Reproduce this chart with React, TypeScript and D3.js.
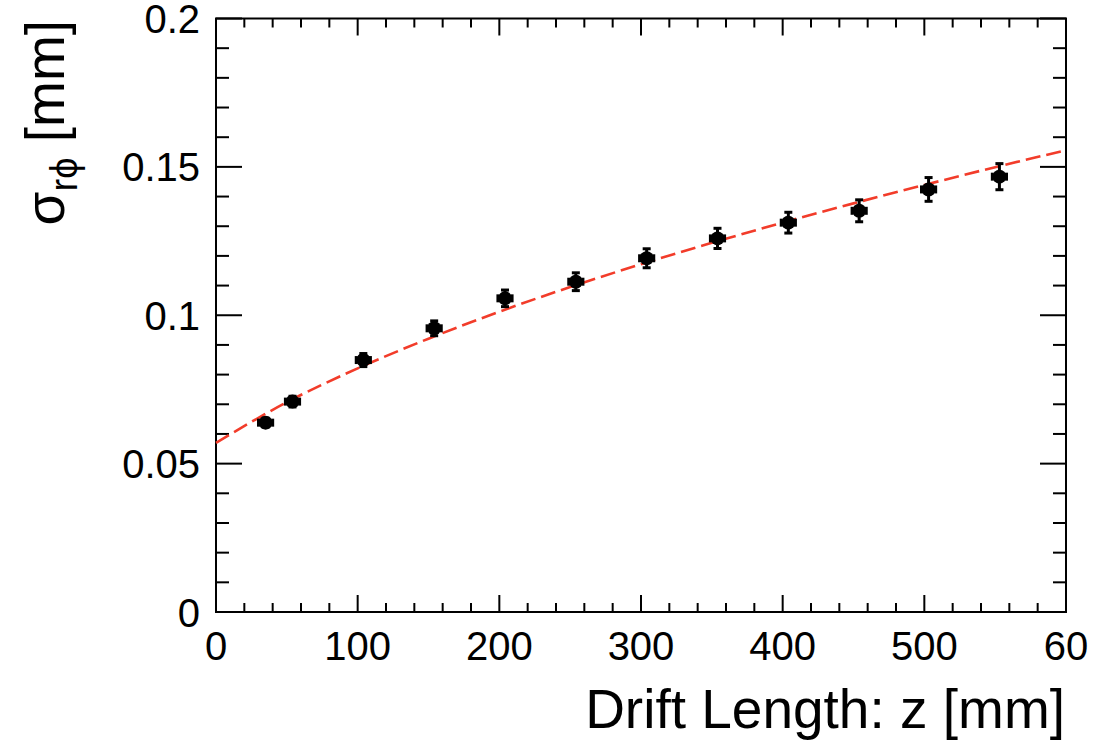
import * as d3 from 'd3';

const driftZ = [35, 54, 104, 154, 204, 254, 304, 354, 404, 454, 503, 553];
const sigmaRPhi = [0.0638, 0.0709, 0.0849, 0.0956, 0.1057, 0.1113, 0.1192, 0.1259, 0.1312, 0.1352, 0.1424, 0.1467];
const sigmaErr = [0.0015, 0.0018, 0.0022, 0.0025, 0.0028, 0.003, 0.0032, 0.0034, 0.0035, 0.0037, 0.004, 0.0044];
const zErr = [5, 5, 5, 5, 5, 5, 5, 5, 5, 5, 5, 5];

// fit curve
const fitZ = [0, 50, 100, 150, 200, 250, 300, 350, 400, 450, 500, 550, 600];
const fitSigma = [0.057, 0.0707, 0.0821, 0.0921, 0.1012, 0.1095, 0.1172, 0.1244, 0.1312, 0.1377, 0.1439, 0.1499, 0.1556];

const xMajor = [0, 100, 200, 300, 400, 500, 600];
const xLabels = ['0', '100', '200', '300', '400', '500', '60'];
const yMajor = [0, 0.05, 0.1, 0.15, 0.2];
const yLabels = ['0', '0.05', '0.1', '0.15', '0.2'];

const W = 1102;
const H = 747;
const left = 216;
const right = 1066;
const top = 18.5;
const bottom = 612;
const font = '"Liberation Sans", Arial, Helvetica, sans-serif';

export default function App() {
  const x = d3.scaleLinear().domain([0, 600]).range([left, right]);
  const y = d3.scaleLinear().domain([0, 0.2]).range([bottom, top]);

  const xMinor = d3.range(0, 601, 20).filter(v => v % 100 !== 0);
  const yMinor = d3.range(0, 21).map(i => i / 100).filter((v, i) => i % 5 !== 0);

  const fitLine = d3
    .line<number>()
    .x((d, i) => x(fitZ[i]))
    .y(d => y(d))
    .curve(d3.curveMonotoneX)(fitSigma);

  const points = driftZ.map((z, i) => ({ z, s: sigmaRPhi[i], ey: sigmaErr[i], ex: zErr[i] }));
  const cap = 4;

  return (
    <svg width={W} height={H} style={{ position: 'absolute', left: 0, top: 0, background: '#fff' }} fontFamily={font}>
      <rect x={0} y={0} width={W} height={H} fill="#fff" />
      <g stroke="#000" strokeWidth={2}>
        {xMajor.map(v => (
          <g key={'xm' + v}>
            <line x1={x(v)} x2={x(v)} y1={bottom} y2={bottom - 17} />
            <line x1={x(v)} x2={x(v)} y1={top} y2={top + 17} />
          </g>
        ))}
        {xMinor.map(v => (
          <g key={'xn' + v}>
            <line x1={x(v)} x2={x(v)} y1={bottom} y2={bottom - 9} />
            <line x1={x(v)} x2={x(v)} y1={top} y2={top + 9} />
          </g>
        ))}
        {yMajor.map(v => (
          <g key={'ym' + v}>
            <line x1={left} x2={left + 26} y1={y(v)} y2={y(v)} />
            <line x1={right} x2={right - 26} y1={y(v)} y2={y(v)} />
          </g>
        ))}
        {yMinor.map(v => (
          <g key={'yn' + v}>
            <line x1={left} x2={left + 13} y1={y(v)} y2={y(v)} />
            <line x1={right} x2={right - 13} y1={y(v)} y2={y(v)} />
          </g>
        ))}
        <rect x={left} y={top} width={right - left} height={bottom - top} fill="none" />
      </g>

      <path d={fitLine || ''} fill="none" stroke="#f23c2a" strokeWidth={2.6} strokeDasharray="15 6" />

      <g stroke="#000" strokeWidth={3} fill="#000">
        {points.map(p => {
          const cx = x(p.z);
          const cy = y(p.s);
          const y1 = y(p.s + p.ey);
          const y2 = y(p.s - p.ey);
          const x1 = x(p.z - p.ex);
          const x2 = x(p.z + p.ex);
          return (
            <g key={p.z}>
              <line x1={cx} x2={cx} y1={y1} y2={y2} />
              <line x1={x1} x2={x2} y1={cy} y2={cy} />
              <line x1={cx - cap} x2={cx + cap} y1={y1} y2={y1} />
              <line x1={cx - cap} x2={cx + cap} y1={y2} y2={y2} />
              <line x1={x1} x2={x1} y1={cy - cap} y2={cy + cap} />
              <line x1={x2} x2={x2} y1={cy - cap} y2={cy + cap} />
              <circle cx={cx} cy={cy} r={7} stroke="none" />
            </g>
          );
        })}
      </g>

      <g fontSize={40} fill="#000">
        {xMajor.map((v, i) => (
          <text key={'xl' + v} x={x(v)} y={660} textAnchor="middle">
            {xLabels[i]}
          </text>
        ))}
        {yMajor.map((v, i) => (
          <text key={'yl' + v} x={200} y={y(v) + 14.5} textAnchor="end">
            {yLabels[i]}
          </text>
        ))}
      </g>

      <text x={1065} y={728} fontSize={55} textAnchor="end" fill="#000">
        Drift Length: z [mm]
      </text>

      <text transform="translate(64,20) rotate(-90)" fontSize={55} textAnchor="end" fill="#000">
        σ
        <tspan fontSize={38} dy={13}>rϕ</tspan>
        <tspan dy={-13}> [mm]</tspan>
      </text>
    </svg>
  );
}
